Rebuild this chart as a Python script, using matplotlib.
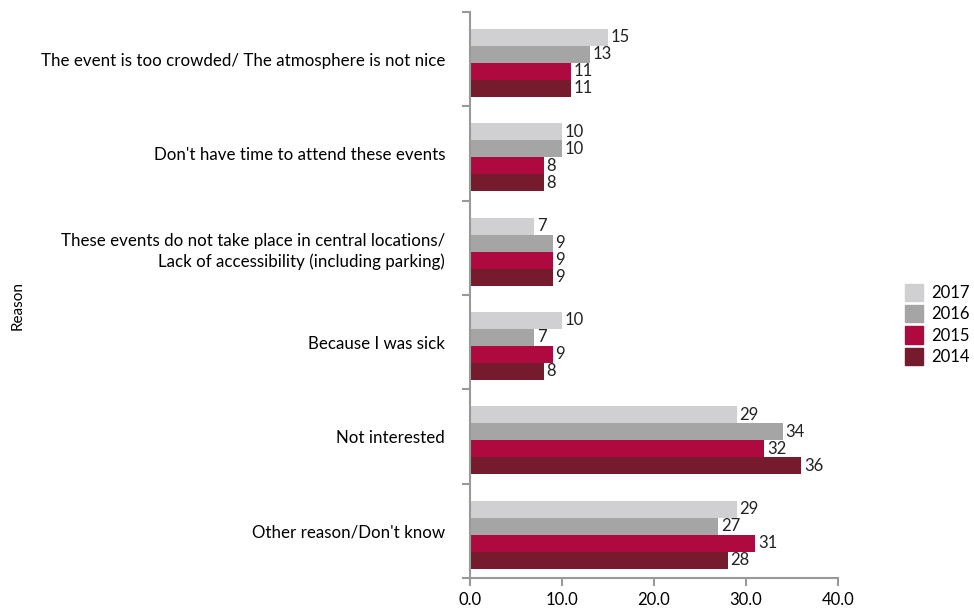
import matplotlib.pyplot as plt
from matplotlib.patches import Patch

# Données
raisons = ["The event is too crowded/ The atmosphere is not nice",
           "Don't have time to attend these events",
           "These events do not take place in central locations/\nLack of accessibility (including parking)",
           "Because I was sick",
           "Not interested",
           "Other reason/Don't know"]
annees = ["2017", "2016", "2015", "2014"]
v2017 = [15, 10, 7, 10, 29, 29]
v2016 = [13, 10, 9, 7, 34, 27]
v2015 = [11, 8, 9, 9, 32, 31]
v2014 = [11, 8, 9, 8, 36, 28]
couleurs = ["#D0D0D2", "#A5A5A5", "#AF0A3F", "#761B2D"]

plt.rcParams['font.family'] = ['Lato', 'DejaVu Sans']

fig = plt.figure(figsize=(9.74, 6.12), dpi=100)
ax = fig.add_axes([0.4826, 0.0556, 0.3778, 0.9248])

hauteur = 0.18
series = [v2017, v2016, v2015, v2014]
for k, (vals, coul) in enumerate(zip(series, couleurs)):
    pos = [i + 0.27 + k * hauteur for i in range(len(raisons))]
    ax.barh(pos, vals, height=hauteur, color=coul)
    for p, v in zip(pos, vals):
        ax.text(v + 0.3, p, str(v), va='center', ha='left', fontsize=12, color='#222222')

ax.set_ylim(6, 0)
ax.set_xlim(0, 40)
ax.set_xticks([0, 10, 20, 30, 40])
ax.set_xticklabels(["0.0", "10.0", "20.0", "30.0", "40.0"], fontsize=12)
ax.set_yticks(range(7))
ax.set_yticklabels([])
ax.set_yticks([i + 0.5 for i in range(6)], minor=True)
ax.set_yticklabels(raisons, minor=True, fontsize=12.2, ha='right', linespacing=1.35)
ax.tick_params(axis='y', which='minor', length=0, pad=18)
ax.tick_params(axis='y', which='major', length=6, color='#999999', width=1.5)
ax.tick_params(axis='x', length=6, color='#999999', width=1.5, pad=4)

for s in ['top', 'right']:
    ax.spines[s].set_visible(False)
for s in ['left', 'bottom']:
    ax.spines[s].set_color('#999999')
    ax.spines[s].set_linewidth(1.5)

fig.text(0.018, 0.5, "Reason", rotation=90, va='center', ha='center', fontsize=11)

handles = [Patch(color=c) for c in couleurs]
fig.legend(handles, annees, loc='center left', bbox_to_anchor=(0.922, 0.47),
           frameon=False, fontsize=12, handlelength=1.1, handleheight=1.2,
           handletextpad=0.5, labelspacing=0.25, borderaxespad=0)

fig.savefig("out.png", dpi=100)
